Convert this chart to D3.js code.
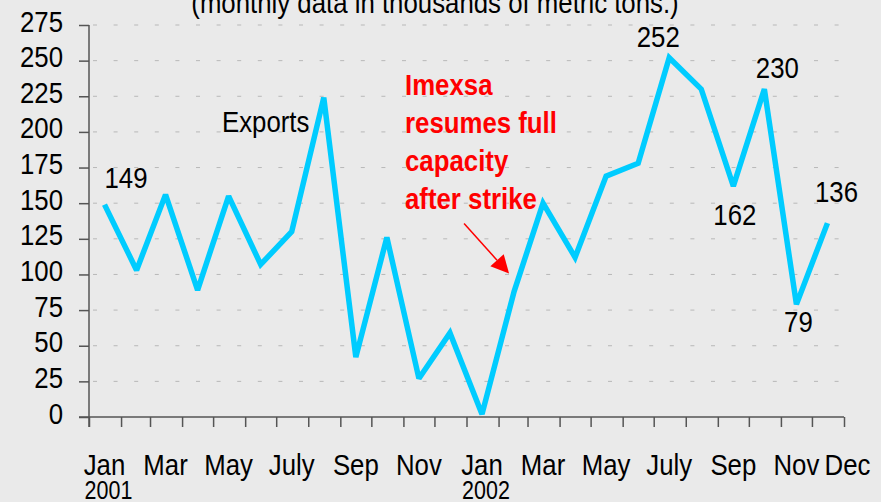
<!DOCTYPE html>
<html><head><meta charset="utf-8">
<script src="https://cdn.jsdelivr.net/npm/d3@7"></script>
<style>html,body{margin:0;padding:0;background:#eaeaea;overflow:hidden} svg{display:block}</style>
</head><body>
<svg id="chart" width="881" height="502"></svg>
<script>
// ---- data ----
const months = ["2001-01","2001-02","2001-03","2001-04","2001-05","2001-06","2001-07","2001-08","2001-09","2001-10","2001-11","2001-12",
                "2002-01","2002-02","2002-03","2002-04","2002-05","2002-06","2002-07","2002-08","2002-09","2002-10","2002-11","2002-12"];
const exportsKt = [149,103,156,89,155,107,130,224,42,126,27,59,
                   2,88,150,112,169,178,252,230,162,230,79,136];
const yTicks = [0,25,50,75,100,125,150,175,200,225,250,275];
const monthLabels   = ["Jan","Mar","May","July","Sep","Nov","Jan","Mar","May","July","Sep","Nov","Dec"];
const monthLabelAt  = ["2001-01","2001-03","2001-05","2001-07","2001-09","2001-11","2002-01","2002-03","2002-05","2002-07","2002-09","2002-11","2002-12"];
const yearLabels    = ["2001","2002"];
const yearLabelAt   = ["2001-01","2002-01"];
const valueLabelAt  = ["2001-01","2002-07","2002-09","2002-10","2002-11","2002-12"];
const titleText = "(monthly data in thousands of metric tons.)";
const seriesName = "Exports";
const noteLines = ["Imexsa","resumes full","capacity","after strike"];
const noteMonth = "2002-02";

// ---- setup ----
const SX = 0.86;
const svg = d3.select("#chart").attr("font-family","'Liberation Sans', Arial, Helvetica, sans-serif");
svg.append("rect").attr("width",881).attr("height",502).attr("fill","#eaeaea");

const parse = d3.utcParse("%Y-%m");
const mid = m => d3.utcDay.offset(parse(m), 15);
const start = parse(months[0]);
const end = d3.utcMonth.offset(parse(months[months.length-1]), 1);

const x = d3.scaleUtc().domain([start, end]).range([89, 844]);
const y = d3.scaleLinear().domain([0, 275]).range([417, 25]);

function txt(g, px, py, s, o = {}) {
  return g.append("text")
    .attr("transform", `translate(${px},${py}) scale(${SX},1)`)
    .attr("text-anchor", o.anchor || "start")
    .attr("font-size", o.size || 30)
    .attr("font-weight", o.weight || "normal")
    .attr("fill", o.fill || "#000")
    .text(s);
}

// gridlines
svg.append("g").selectAll("line").data(yTicks.filter(d => d > 0)).join("line")
  .attr("x1", 93).attr("x2", 842)
  .attr("y1", d => y(d)).attr("y2", d => y(d))
  .attr("stroke", "#b8b8b8").attr("stroke-width", 1)
  .attr("stroke-dasharray", "4,16.6");

// y axis
const yAxisG = svg.append("g").attr("transform", `translate(${x(start)},0)`)
  .call(d3.axisLeft(y).tickValues(yTicks).tickSize(10).tickSizeOuter(0));
yAxisG.select(".domain").remove();
yAxisG.selectAll(".tick line").attr("stroke", "#555").attr("stroke-width", 1.5);
yAxisG.selectAll(".tick text")
  .attr("x", null).attr("dy", null).attr("fill", "#000")
  .attr("font-size", 30).attr("font-family", null)
  .attr("text-anchor", "end")
  .attr("transform", `translate(-26,6) scale(${SX},1)`);
yAxisG.append("line").attr("x1", 0).attr("x2", 0)
  .attr("y1", y(275)).attr("y2", y(0) + 10)
  .attr("stroke", "#555").attr("stroke-width", 1.5);

// x axis
const monthStarts = d3.utcMonth.range(start, d3.utcMonth.offset(end, 1));
const xAxisG = svg.append("g").attr("transform", `translate(0,${y(0)})`)
  .call(d3.axisBottom(x).tickValues(monthStarts).tickSize(10).tickSizeOuter(0).tickFormat(""));
xAxisG.select(".domain").remove();
xAxisG.selectAll(".tick line").attr("stroke", "#555").attr("stroke-width", 1.5);
xAxisG.append("line").attr("x1", x(start) - 10).attr("x2", x(end))
  .attr("y1", 0).attr("y2", 0).attr("stroke", "#555").attr("stroke-width", 1.5);

// month labels
monthLabels.forEach((lab, i) => {
  const dx = lab === "Dec" ? 20 : 0;
  txt(svg, x(mid(monthLabelAt[i])) + dx, 475, lab, {anchor: "middle"});
});
yearLabels.forEach((lab, i) => {
  txt(svg, x(mid(yearLabelAt[i])) + 4, 499, lab, {anchor: "middle", size: 25});
});

// title
txt(svg, 435, 13, titleText, {anchor: "middle"});

// line
const pts = months.map((m, i) => ({m, v: exportsKt[i]}));
svg.append("path").datum(pts)
  .attr("d", d3.line().x(d => x(mid(d.m))).y(d => y(d.v)))
  .attr("fill", "none").attr("stroke", "#00ccff").attr("stroke-width", 5.5)
  .attr("stroke-linejoin", "miter").attr("stroke-miterlimit", 2.5);

// series label
txt(svg, 222, 132, seriesName);

// value labels
const labelStyle = {
  "2001-01": {dx: 0,   dy: -16.5, anchor: "start"},
  "2002-07": {dx: -11, dy: -11,   anchor: "middle"},
  "2002-09": {dx: 1.5, dy: 39,    anchor: "middle"},
  "2002-10": {dx: 13,  dy: -11.5, anchor: "middle"},
  "2002-11": {dx: 2,   dy: 27.5,  anchor: "middle"},
  "2002-12": {dx: 9,   dy: -21.5, anchor: "middle"}
};
valueLabelAt.forEach(m => {
  const i = months.indexOf(m);
  const s = labelStyle[m];
  txt(svg, x(mid(m)) + s.dx, y(exportsKt[i]) + s.dy, String(exportsKt[i]), {anchor: s.anchor});
});

// annotation
const noteG = svg.append("g");
noteLines.forEach((l, i) => txt(noteG, 405, 94.5 + i * 38, l, {weight: "bold", fill: "#ff0000"}));
const ni = months.indexOf(noteMonth);
const ax = x(mid(noteMonth)), ay = y(exportsKt[ni]);
const tip = [ax - 5, ay - 18], tail = [ax - 50, ay - 68];
const dxv = tip[0] - tail[0], dyv = tip[1] - tail[1];
const len = Math.hypot(dxv, dyv), ux = dxv / len, uy = dyv / len;
const hl = 18, hw = 9;
const bx = tip[0] - ux * hl, by = tip[1] - uy * hl;
noteG.append("line").attr("x1", tail[0]).attr("y1", tail[1]).attr("x2", bx).attr("y2", by)
  .attr("stroke", "#ff0000").attr("stroke-width", 1.5);
noteG.append("polygon")
  .attr("points", [[tip[0], tip[1]], [bx - uy * hw, by + ux * hw], [bx + uy * hw, by - ux * hw]].map(p => p.join(",")).join(" "))
  .attr("fill", "#ff0000");
</script>
</body></html>
